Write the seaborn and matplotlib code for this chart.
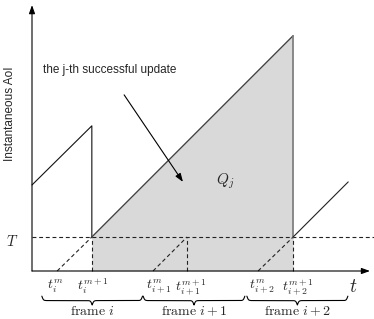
import numpy as np
import pandas as pd
import matplotlib
matplotlib.use("Agg")
import matplotlib.pyplot as plt
import seaborn as sns

# ---------------- data (time unit = T) ----------------
T = 1.0
t_m = [0.74, 3.56, 6.65]            # t^m of frames i, i+1, i+2
t_m1 = [1.76, 4.56, 7.68]           # t^{m+1}
lbl_m = [r"$t_i^m$", r"$t_{i+1}^m$", r"$t_{i+2}^m$"]
lbl_m1 = [r"$t_i^{m+1}$", r"$t_{i+1}^{m+1}$", r"$t_{i+2}^{m+1}$"]
lbl_m_x = [0.68, 3.74, 6.76]
lbl_m1_x = [1.79, 4.68, 7.82]
frame_start = [0.29, 3.27, 6.32]
frame_end = [3.25, 6.26, 9.29]
frame_lbl = [r"$\mathrm{frame}\ i$", r"$\mathrm{frame}\ i+1$", r"$\mathrm{frame}\ i+2$"]

# AoI sawtooth segments
left_t = [0.0, 1.76, 1.76]
left_a = [2.53, 4.27, 1.0]
main_t = [1.76, 7.68]
main_a = [1.0, 6.92]
right_t = [7.68, 9.30]
right_a = [1.0, 2.62]

# ---------------- figure ----------------
sns.set_style("white")
plt.rcParams["font.family"] = ["Liberation Sans", "DejaVu Sans"]
plt.rcParams["mathtext.fontset"] = "cm"

fig = plt.figure(figsize=(3.74, 3.19), dpi=100)
ax = fig.add_axes([0, 0, 1, 1])
ax.set_xlim(-32 / 34, 342 / 34)
ax.set_ylim(-48 / 34, 271 / 34)
ax.axis("off")

dash = (0, (3.5, 2.5))
lw = 0.8

# shaded area Q_j
ax.fill_between(main_t, [0, 0], main_a, color="#d9d9d9", lw=0, zorder=1)

# axes arrows
arr = dict(arrowstyle="-|>,head_length=0.5,head_width=0.18", color="black", lw=0.8,
           shrinkA=0, shrinkB=0)
ax.annotate("", xy=(0, 7.82), xytext=(0, 0), arrowprops=arr, zorder=5)
ax.annotate("", xy=(9.94, 0), xytext=(0, 0), arrowprops=arr, zorder=5)

# sawtooth
sns.lineplot(x=left_t, y=left_a, sort=False, estimator=None, color="#111111", lw=lw, ax=ax, zorder=4)
sns.lineplot(x=main_t, y=main_a, sort=False, estimator=None, color="#444444", lw=1.0, ax=ax, zorder=4)
sns.lineplot(x=[main_t[1], main_t[1]], y=[main_a[1], T], sort=False, estimator=None,
             color="#7a7a7a", lw=1.2, ax=ax, zorder=4)
sns.lineplot(x=right_t, y=right_a, sort=False, estimator=None, color="#222222", lw=lw, ax=ax, zorder=4)

# threshold line T
sns.lineplot(x=[0, 10.1], y=[T, T], sort=False, estimator=None, color="#222222", lw=lw,
             linestyle=dash, ax=ax, zorder=3)

# dashed ramps and verticals
for a, b in zip(t_m, t_m1):
    sns.lineplot(x=[a, b], y=[0, T], sort=False, estimator=None, color="#222222", lw=lw,
                 linestyle=dash, ax=ax, zorder=3)
    sns.lineplot(x=[b, b], y=[0, T], sort=False, estimator=None, color="#222222", lw=lw,
                 linestyle=dash, ax=ax, zorder=3)

# labels
ax.text(-0.58, 0.88, r"$T$", fontsize=10.5, ha="center", va="center")
ax.text(-0.66, 4.62, "Instantaneous AoI", rotation=90, fontsize=8.5, ha="center", va="center")
for x, s in zip(lbl_m_x, lbl_m):
    ax.text(x, -0.46, s, fontsize=10, ha="center", va="center")
for x, s in zip(lbl_m1_x, lbl_m1):
    ax.text(x, -0.46, s, fontsize=10, ha="center", va="center")
ax.text(9.44, -0.5, r"$t$", fontsize=14, ha="center", va="center")
ax.text(5.68, 2.65, r"$Q_j$", fontsize=11, ha="center", va="center")

# annotation
ax.text(0.32, 5.91, "the j-th successful update", fontsize=8.5, ha="left", va="center")
ax.annotate("", xy=(4.44, 2.62), xytext=(2.71, 5.18),
            arrowprops=dict(arrowstyle="-|>,head_length=0.5,head_width=0.18",
                            color="black", lw=0.8, shrinkA=0, shrinkB=0), zorder=6)

# braces
def brace(x0, x1, y_end, depth, beta=45.0):
    xm = (x0 + x1) / 2
    xs = np.linspace(x0, xm, 200)
    v = 1 / (1 + np.exp(-beta * (xs - x0))) + 1 / (1 + np.exp(-beta * (xs - xm)))
    ys = y_end - (v - 0.5) * depth
    xx = np.concatenate([xs, (2 * xm - xs)[::-1]])
    yy = np.concatenate([ys, ys[::-1]])
    ax.plot(xx, yy, color="black", lw=0.8, clip_on=False)

for a, b, s in zip(frame_start, frame_end, frame_lbl):
    brace(a, b, -0.74, 0.26)
    ax.text((a + b) / 2, -1.19, s, fontsize=10, ha="center", va="center")

fig.savefig("out.png", dpi=100)
